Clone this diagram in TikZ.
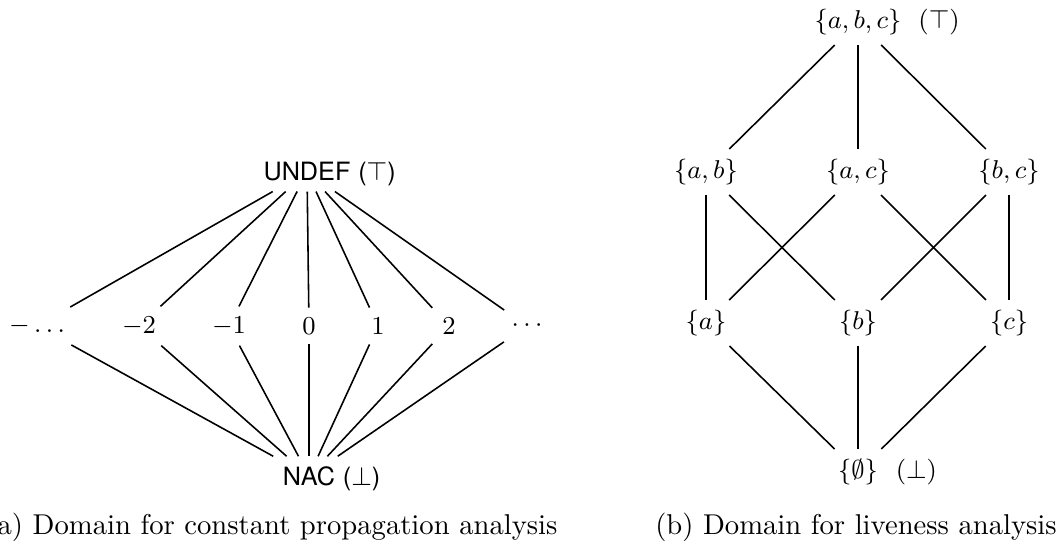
\documentclass[tikz,border=0pt]{standalone}
\usepackage{fontspec}
\newfontfamily\hvfont{TeX Gyre Heros}
\begin{document}
\begin{tikzpicture}[x=0.349pt, y=-0.349pt,
  every node/.style={font=\fontsize{8.8}{10.5}\selectfont},
  sansnode/.style={font=\fontsize{8.8}{10.5}\selectfont\hvfont},
  tag/.style={anchor=base west, inner sep=0pt},
  captext/.style={anchor=base, inner sep=0pt, font=\fontsize{10}{12}\selectfont},
  edge/.style={draw, line width=0.55pt}]
\useasboundingbox (0,0) rectangle (1062,546);

% ---------- (a) constant propagation ----------
\node[sansnode] (undef) at (307,172) {UNDEF};
\node[tag, sansnode, xshift=-1pt] (undeft) at (undef.base east) {($\top$)};
\node (mdots) at (37,326) {$-\ldots$};
\node (m2) at (139,326) {$-2$};
\node (m1) at (229,326) {$-1$};
\node (z0) at (309,326) {$0$};
\node (p1) at (378,326) {$1$};
\node (p2) at (449,326) {$2$};
\node (pdots) at (527,326) {$\cdots$};
\node[sansnode] (nac) at (309,476) {NAC};
\node[tag, sansnode, xshift=-1pt] (nact) at (nac.base east) {($\bot$)};
\foreach \n in {mdots,m2,m1,z0,p1,p2,pdots}{
  \draw[edge] (undef) -- (\n);
  \draw[edge] (\n) -- (nac);
}
\node[captext] (capa) at (272,534) {(a) Domain for constant propagation analysis};

% ---------- (b) liveness ----------
\node (abc) at (858,22) {$\{a,b,c\}$};
\node[tag, xshift=2.2pt] (abct) at (abc.base east) {$(\top)$};
\node (ab) at (706,172) {$\{a,b\}$};
\node (ac) at (858,172) {$\{a,c\}$};
\node (bc) at (1009,172) {$\{b,c\}$};
\node (a) at (706,323) {$\{a\}$};
\node (b) at (858,323) {$\{b\}$};
\node (c) at (1009,323) {$\{c\}$};
\node (e) at (858,472) {$\{\emptyset\}$};
\node[tag, xshift=2.5pt] (et) at (e.base east) {$(\bot)$};
\draw[edge] (abc) -- (ab);
\draw[edge] (abc) -- (ac);
\draw[edge] (abc) -- (bc);
\draw[edge] (ab) -- (a);
\draw[edge] (ab) -- (b);
\draw[edge] (ac) -- (a);
\draw[edge] (ac) -- (c);
\draw[edge] (bc) -- (b);
\draw[edge] (bc) -- (c);
\draw[edge] (a) -- (e);
\draw[edge] (b) -- (e);
\draw[edge] (c) -- (e);
\node[captext] (capb) at (856,534) {(b) Domain for liveness analysis};
\end{tikzpicture}
\end{document}
